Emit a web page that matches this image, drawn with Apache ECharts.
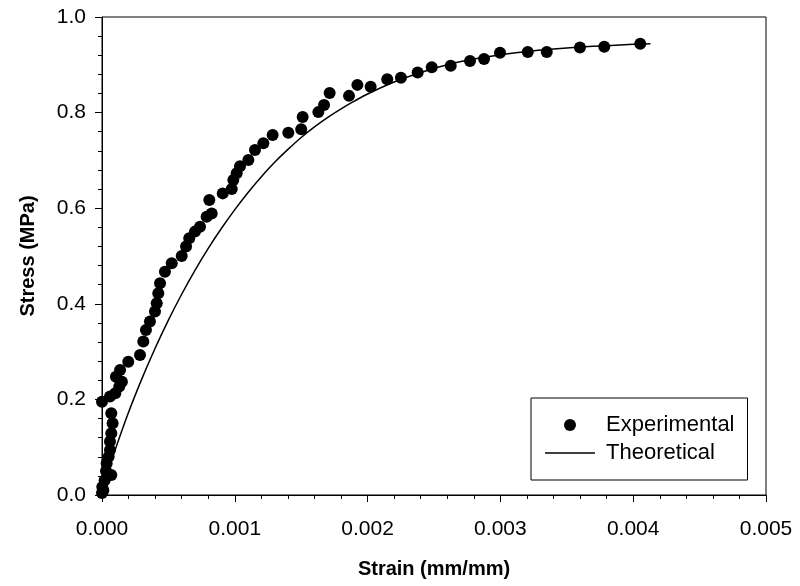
<!DOCTYPE html>
<html>
<head>
<meta charset="utf-8">
<script src="https://cdn.jsdelivr.net/npm/echarts@6/dist/echarts.min.js"></script>
<style>html,body{margin:0;padding:0;background:#fff}#c{width:800px;height:586px}</style>
</head>
<body>
<div id="c"></div>
<script>
// Experimental data [strain, stress]
var experimental = [
  [0.000000,0.004],[0.000002,0.017],[0.00001,0.010],[0.00002,0.031],[0.00003,0.050],
  [0.000035,0.066],[0.00005,0.080],[0.00007,0.042],[0.00006,0.094],[0.00006,0.112],
  [0.00007,0.129],[0.00008,0.150],[0.00007,0.171],[0.00000,0.195],[0.00006,0.206],
  [0.00010,0.213],[0.00013,0.227],[0.00015,0.237],
  [0.000105,0.2475],[0.000136,0.2615],[0.000198,0.279],[0.000286,0.293],[0.000311,0.321],
  [0.000331,0.345],[0.000361,0.363],[0.000399,0.384],[0.000412,0.401],[0.000424,0.422],
  [0.000437,0.443],[0.000474,0.467],[0.000525,0.485],[0.000600,0.500],[0.000633,0.520],
  [0.000657,0.537],[0.000700,0.551],[0.000738,0.561],[0.000788,0.582],[0.000826,0.589],
  [0.000808,0.617],[0.000909,0.631],[0.000977,0.640],[0.000989,0.659],[0.001014,0.673],
  [0.001039,0.688],[0.001102,0.701],[0.001152,0.722],[0.001215,0.736],[0.001285,0.753],
  [0.001403,0.758],[0.001500,0.765],[0.001511,0.791],[0.001629,0.801],[0.001672,0.816],
  [0.001714,0.841],[0.001860,0.835],[0.001923,0.858],[0.002023,0.854],[0.002148,0.870],
  [0.002251,0.873],[0.002377,0.884],[0.002483,0.895],[0.002626,0.898],[0.002771,0.908],
  [0.002877,0.912],[0.002997,0.925],[0.003206,0.927],[0.003349,0.927],[0.003599,0.936],
  [0.003782,0.938],[0.004053,0.944]
];
// Theoretical curve [strain, stress]
var theoretical = [
  [0,0],[0.00005,0.052],[0.0001,0.095],[0.0002,0.173],[0.0003,0.243],[0.0004,0.307],
  [0.0005,0.366],[0.0006,0.420],[0.0007,0.470],[0.0008,0.516],[0.0009,0.558],[0.0010,0.597],
  [0.0011,0.633],[0.0012,0.666],[0.0013,0.696],[0.0014,0.723],[0.0015,0.748],[0.0016,0.770],
  [0.0017,0.790],[0.0018,0.808],[0.0019,0.824],[0.0020,0.839],[0.0022,0.864],[0.0024,0.884],
  [0.0026,0.900],[0.0028,0.912],[0.0030,0.921],[0.0032,0.928],[0.0034,0.933],[0.0036,0.937],
  [0.0038,0.940],[0.0040,0.943],[0.00413,0.944]
];
var xTicks = ['0.000','0.001','0.002','0.003','0.004','0.005'];
var yTicks = ['0.0','0.2','0.4','0.6','0.8','1.0'];

var FONT = 'Liberation Sans, Arial, sans-serif';
var chart = echarts.init(document.getElementById('c'), null, {renderer:'canvas'});
chart.setOption({
  animation: false,
  backgroundColor: '#fff',
  grid: {left:102, right:34, top:17, bottom:91, show:true, borderColor:'#000', borderWidth:1, backgroundColor:'transparent'},
  xAxis: {
    type:'value', min:0, max:0.005, interval:0.001,
    name:'Strain (mm/mm)', nameLocation:'middle', nameGap:64,
    nameTextStyle:{fontFamily:FONT, fontWeight:'bold', fontSize:20, color:'#000'},
    axisLine:{show:true, onZero:false, lineStyle:{color:'#000', width:1}},
    axisTick:{show:true, inside:false, length:7, lineStyle:{color:'#000'}},
    minorTick:{show:true, splitNumber:5, length:4, lineStyle:{color:'#000'}},
    splitLine:{show:false},
    axisLabel:{margin:24, fontFamily:FONT, fontSize:21, color:'#000',
      formatter:function(v){ return xTicks[Math.round(v/0.001)]; }}
  },
  yAxis: {
    type:'value', min:0, max:1, interval:0.2,
    name:'Stress (MPa)', nameLocation:'middle', nameGap:64,
    nameTextStyle:{fontFamily:FONT, fontWeight:'bold', fontSize:20, color:'#000'},
    axisLine:{show:true, onZero:false, lineStyle:{color:'#000', width:1}},
    axisTick:{show:true, inside:false, length:7, lineStyle:{color:'#000'}},
    minorTick:{show:true, splitNumber:5, length:4, lineStyle:{color:'#000'}},
    splitLine:{show:false},
    axisLabel:{margin:16, fontFamily:FONT, fontSize:21, color:'#000',
      formatter:function(v){ return yTicks[Math.round(v/0.2)]; }}
  },
  legend: {
    left:531, top:398, orient:'vertical',
    borderColor:'#000', borderWidth:1, borderRadius:0,
    padding:[16,13,16,14], itemGap:6, itemWidth:50, itemHeight:12,
    symbolKeepAspect:true,
    textStyle:{fontFamily:FONT, fontSize:22, color:'#000', lineHeight:22},
    formatter:function(n){ return ' ' + n; },
    data:[{name:'Experimental', icon:'circle'},
          {name:'Theoretical', icon:'path://M0,0 L50,0 L50,1.3 L0,1.3 Z'}]
  },
  series: [
    {name:'Experimental', type:'scatter', data:experimental, symbol:'circle', symbolSize:12,
      itemStyle:{color:'#000', opacity:1}, z:3},
    {name:'Theoretical', type:'line', data:theoretical, showSymbol:false, symbol:'none', smooth:0.3,
      lineStyle:{color:'#000', width:1.5}, itemStyle:{color:'#000'}, z:2}
  ]
});
</script>
</body>
</html>
